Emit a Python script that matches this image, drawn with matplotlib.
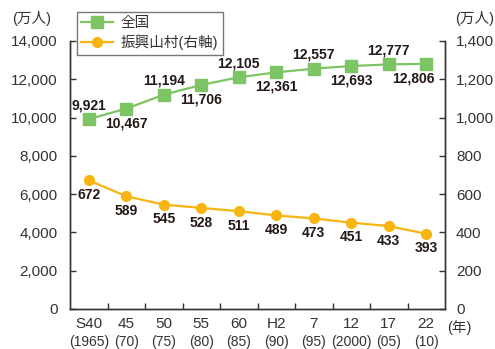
import matplotlib
matplotlib.use("Agg")
import matplotlib.pyplot as plt
from matplotlib.transforms import blended_transform_factory

plt.rcParams['font.family'] = ['Liberation Sans', 'Noto Sans CJK JP']

era_labels = ['S40', '45', '50', '55', '60', 'H2', '7', '12', '17', '22']
year_labels = ['(1965)', '(70)', '(75)', '(80)', '(85)', '(90)', '(95)', '(2000)', '(05)', '(10)']
national = [9921, 10467, 11194, 11706, 12105, 12361, 12557, 12693, 12777, 12806]
sanson = [672, 589, 545, 528, 511, 489, 473, 451, 433, 393]

green = '#7cc464'
orange = '#f8b50f'
dark = '#333333'
label_col = '#231815'

fig = plt.figure(figsize=(4.95, 3.49), dpi=100)
ax = fig.add_axes([70 / 495, 1 - 309 / 349, 375 / 495, 268 / 349])
ax2 = ax.twinx()

x = list(range(len(era_labels)))
l1, = ax.plot(x, national, color=green, lw=1.6, marker='s', markersize=8.5,
              markerfacecolor=green, markeredgecolor=green, label='全国', zorder=3)
l2, = ax2.plot(x, sanson, color=orange, lw=1.6, marker='o', markersize=7,
               markerfacecolor=orange, markeredgecolor=orange, label='振興山村(右軸)', zorder=3)

ax.set_xlim(-0.5, 9.5)
ax.set_ylim(0, 14000)
ax2.set_ylim(0, 1400)
ax.set_yticks(range(0, 14001, 2000))
ax.set_yticklabels([f'{v:,}' for v in range(0, 14001, 2000)])
ax2.set_yticks(range(0, 1401, 200))
ax2.set_yticklabels([f'{v:,}' for v in range(0, 1401, 200)])

for a in (ax, ax2):
    a.spines['top'].set_visible(False)
    for s in ('left', 'right', 'bottom'):
        a.spines[s].set_color(dark)
        a.spines[s].set_linewidth(1.0)
ax.tick_params(axis='y', direction='in', length=4, width=1, color=dark, pad=9,
               labelsize=11, labelcolor=dark)
ax2.tick_params(axis='y', direction='in', length=4, width=1, color=dark, pad=8,
                labelsize=11, labelcolor=dark)

# x axis: category labels centered, small ticks between categories
ax.set_xticks(x)
ax.set_xticklabels(era_labels)
ax.tick_params(axis='x', which='major', length=0, pad=6, labelsize=11, labelcolor=dark)
ax.set_xticks([i + 0.5 for i in x[:-1]], minor=True)
ax.tick_params(axis='x', which='minor', direction='in', length=4, width=1, color=dark)

trans = blended_transform_factory(ax.transData, ax.transAxes)
for i, yl in enumerate(year_labels):
    ax.annotate(yl, xy=(i, 0), xycoords=trans, xytext=(0, -24), textcoords='offset points',
                ha='center', va='center', fontsize=10, color=dark)

# data labels
for i, v in enumerate(national):
    dy = 10 if i % 2 == 0 else -10.5
    dx = -9 if i == len(national) - 1 else 0
    ax.annotate(f'{v:,}', xy=(i, v), xytext=(dx, dy), textcoords='offset points',
                ha='center', va='center', fontsize=10, fontweight='bold', color=label_col)
for i, v in enumerate(sanson):
    ax2.annotate(f'{v}', xy=(i, v), xytext=(0, -10.5), textcoords='offset points',
                 ha='center', va='center', fontsize=10, fontweight='bold', color=label_col)

# units
fig.text(32 / 495, 1 - 19 / 349, '(万人)', ha='center', va='center', fontsize=10.5, color=dark)
fig.text(475 / 495, 1 - 19 / 349, '(万人)', ha='center', va='center', fontsize=10.5, color=dark)
fig.text(459 / 495, 1 - 328 / 349, '(年)', ha='center', va='center', fontsize=10.5, color=dark)

leg = ax2.legend(handles=[l1, l2], loc='upper left', bbox_to_anchor=(77 / 495, 1 - 12 / 349),
                 bbox_transform=fig.transFigure, frameon=True, fancybox=False,
                 edgecolor='#555555', fontsize=10.5, handlelength=2.2, handletextpad=0.5,
                 borderpad=0.3, labelspacing=0.3, borderaxespad=0)
leg.get_frame().set_linewidth(1.0)
for t in leg.get_texts():
    t.set_color(dark)

fig.savefig('out.png', dpi=100)
